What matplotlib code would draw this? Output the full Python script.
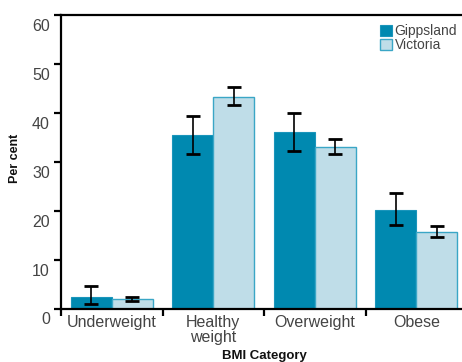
import numpy as np
import matplotlib
matplotlib.use('Agg')
import matplotlib.pyplot as plt
import matplotlib.transforms as mtransforms

# BMI estimates with 95% confidence limits
categories = ['Underweight', 'Healthy\nweight', 'Overweight', 'Obese']
gippsland = [2.3, 35.4, 36.0, 20.2]
gippsland_lo = [0.9, 31.6, 32.2, 17.1]
gippsland_hi = [4.7, 39.4, 40.0, 23.6]
victoria = [2.0, 43.3, 33.0, 15.7]
victoria_lo = [1.5, 41.7, 31.6, 14.6]
victoria_hi = [2.4, 45.2, 34.7, 16.9]
yticks = [0, 10, 20, 30, 40, 50, 60]

dark = '#0089b0'
light = '#bfdde8'
light_edge = '#3aa6c6'
grey = '#444444'

plt.rcParams['font.family'] = ['Liberation Sans', 'DejaVu Sans']

fig = plt.figure(figsize=(4.62, 3.62), dpi=100)
ax = fig.add_axes([61 / 462, 53.5 / 362, 406 / 462, 293.5 / 362])

x = np.arange(len(categories))
w = 0.405

g_err = [np.array(gippsland) - np.array(gippsland_lo), np.array(gippsland_hi) - np.array(gippsland)]
v_err = [np.array(victoria) - np.array(victoria_lo), np.array(victoria_hi) - np.array(victoria)]

ax.bar(x - w / 2, gippsland, w, color=dark, edgecolor='#1a95bb', linewidth=0.8, label='Gippsland', zorder=2)
ax.bar(x + w / 2, victoria, w, color=light, edgecolor=light_edge, linewidth=1.0, label='Victoria', zorder=2)
ax.errorbar(x - w / 2, gippsland, yerr=g_err, fmt='none', ecolor='black', elinewidth=1.2,
            capsize=5, capthick=2, zorder=3)
ax.errorbar(x + w / 2, victoria, yerr=v_err, fmt='none', ecolor='black', elinewidth=1.2,
            capsize=5, capthick=2, zorder=3)

ax.set_xlim(-0.5, 3.5)
ax.set_ylim(0, 60)

for side in ['left', 'bottom', 'top']:
    ax.spines[side].set_linewidth(1.6)
    ax.spines[side].set_color('black')
ax.spines['right'].set_visible(False)

ax.set_yticks(yticks)
ax.set_yticklabels([str(t) for t in yticks], fontsize=11.5, color=grey)
ax.tick_params(axis='y', direction='out', length=5, width=1.6, pad=3)
# shift y labels a little below their ticks
offset = mtransforms.ScaledTranslation(0, -10 / 100, fig.dpi_scale_trans)
for lab in ax.get_yticklabels():
    lab.set_transform(lab.get_transform() + offset)

ax.set_xticks(x)
ax.set_xticklabels(categories, fontsize=11.5, color=grey, linespacing=1.0)
ax.set_xticks([-0.5, 0.5, 1.5, 2.5, 3.5], minor=True)
ax.tick_params(axis='x', which='major', length=0, pad=5)
ax.tick_params(axis='x', which='minor', direction='out', length=5, width=1.6)

fig.text(15 / 462, 1 - 158 / 362, 'Per cent', rotation=90, fontsize=9, fontweight='bold',
         ha='center', va='center', color='#111111')
fig.text(264 / 462, 1 - 350 / 362, 'BMI Category', fontsize=9.5, fontweight='bold',
         ha='center', va='top', color='#111111')

ax.legend(loc='upper left', bbox_to_anchor=(380 / 462, 1 - 24 / 362), bbox_transform=fig.transFigure,
          frameon=False, fontsize=10, handlelength=0.85, handleheight=0.85, handletextpad=0.2,
          labelspacing=0.0, borderpad=0, borderaxespad=0, labelcolor=grey)

fig.savefig('out.png', dpi=100)
